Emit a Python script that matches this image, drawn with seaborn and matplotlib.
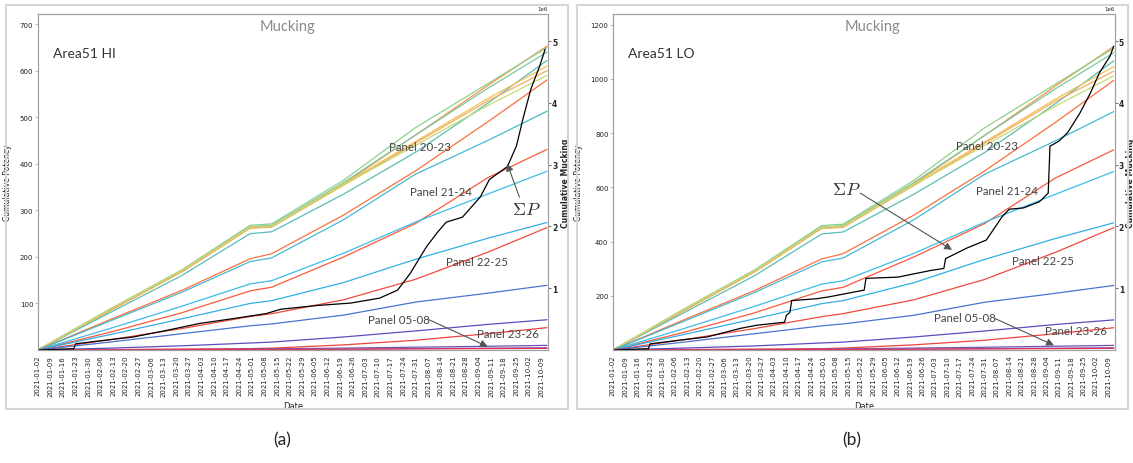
import numpy as np
import pandas as pd
import matplotlib
matplotlib.use("Agg")
import matplotlib.pyplot as plt
import matplotlib.dates as mdates
from matplotlib.patches import Rectangle
import seaborn as sns

# ---------------------------------------------------------------- data
# sampling dates for the per-panel cumulative potency curves
dates = ["2021-01-02", "2021-02-11", "2021-03-23", "2021-04-30", "2021-05-12",
         "2021-06-21", "2021-07-31", "2021-09-09", "2021-10-12"]

# Area51 HI - cumulative potency per panel
hi_01 = [0, 84, 168, 262, 265, 357, 462, 568, 653]
hi_02 = [0, 88, 172, 268, 271, 365, 478, 572, 650]
hi_03 = [0, 86, 170, 265, 268, 360, 462, 562, 640]
hi_04 = [0, 80, 160, 250, 254, 335, 425, 530, 622]
hi_05 = [0, 86, 170, 264, 266, 357, 448, 540, 610]
hi_06 = [0, 85, 168, 262, 264, 354, 445, 535, 600]
hi_07 = [0, 87, 170, 264, 266, 355, 440, 525, 590]
hi_08 = [0, 65, 128, 196, 207, 290, 385, 490, 580]
hi_09 = [0, 62, 124, 190, 198, 280, 378, 450, 513]
hi_10 = [0, 38, 80, 127, 135, 200, 272, 370, 431]
hi_11 = [0, 46, 94, 142, 149, 208, 275, 335, 384]
hi_12 = [0, 33, 67, 100, 106, 145, 195, 240, 274]
hi_13 = [0, 22, 46, 72, 78, 108, 152, 210, 263]
hi_14 = [0, 17, 35, 52, 56, 75, 103, 122, 139]
hi_15 = [0, 4, 9, 15, 17, 28, 41, 55, 65]
hi_16 = [0, 1, 2, 3, 4, 11, 21, 35, 48]
hi_17 = [0, 0.5, 1, 2, 2.5, 4, 6, 8, 10]
hi_18 = [0, 0.2, 0.5, 1, 1.2, 2, 3, 4, 5]
hi_19 = [0, 0.3, 0.6, 1, 1.2, 1.8, 2.4, 3, 3.5]

# Area51 LO - cumulative potency per panel
lo_01 = [0, 144, 288, 449, 454, 612, 791, 973, 1119]
lo_02 = [0, 151, 295, 459, 464, 625, 819, 980, 1113]
lo_03 = [0, 147, 291, 454, 459, 617, 791, 963, 1096]
lo_04 = [0, 137, 274, 428, 435, 574, 728, 908, 1066]
lo_05 = [0, 147, 291, 452, 456, 612, 767, 925, 1045]
lo_06 = [0, 146, 288, 449, 452, 606, 762, 917, 1028]
lo_07 = [0, 149, 291, 452, 456, 608, 754, 899, 1011]
lo_08 = [0, 111, 219, 336, 355, 497, 660, 839, 994]
lo_09 = [0, 106, 212, 325, 339, 480, 648, 771, 879]
lo_10 = [0, 65, 137, 218, 231, 343, 466, 634, 738]
lo_11 = [0, 79, 161, 243, 255, 356, 471, 574, 658]
lo_12 = [0, 57, 115, 171, 182, 248, 334, 411, 469]
lo_13 = [0, 38, 79, 123, 134, 185, 260, 360, 451]
lo_14 = [0, 29, 60, 89, 96, 128, 176, 209, 238]
lo_15 = [0, 7, 15, 26, 29, 48, 70, 94, 111]
lo_16 = [0, 2, 3, 5, 7, 19, 36, 60, 82]
lo_17 = [0, 1, 2, 3, 4, 7, 10, 14, 17]
lo_18 = [0, 0.3, 0.9, 1.7, 2, 3.4, 5, 7, 8.6]
lo_19 = [0, 0.5, 1, 1.7, 2, 3, 4, 5, 6]

# cumulative mucking (millions), Area51 HI
muck_hi_dates = ["2021-01-02", "2021-01-22", "2021-01-23", "2021-02-06", "2021-02-24",
                 "2021-03-15", "2021-04-02", "2021-04-21", "2021-05-09", "2021-05-17",
                 "2021-06-06", "2021-06-25", "2021-07-11", "2021-07-21", "2021-07-28",
                 "2021-08-06", "2021-08-12", "2021-08-17", "2021-08-26", "2021-09-05",
                 "2021-09-10", "2021-09-20", "2021-09-25", "2021-09-29", "2021-10-03",
                 "2021-10-08", "2021-10-11"]
muck_hi = [0, 0.02, 0.10, 0.15, 0.21, 0.32, 0.43, 0.51, 0.59, 0.66, 0.72, 0.76, 0.84,
           0.97, 1.24, 1.67, 1.90, 2.07, 2.15, 2.48, 2.76, 2.97, 3.30, 3.78, 4.22,
           4.60, 4.87]

# cumulative mucking (millions), Area51 LO
muck_lo_dates = ["2021-01-02", "2021-01-22", "2021-01-23", "2021-02-06", "2021-02-24",
                 "2021-03-15", "2021-03-24", "2021-04-09", "2021-04-10", "2021-04-12",
                 "2021-04-13", "2021-04-27", "2021-05-04", "2021-05-24", "2021-05-25",
                 "2021-06-12", "2021-07-01", "2021-07-08", "2021-07-09", "2021-07-14",
                 "2021-07-21", "2021-08-01", "2021-08-10", "2021-08-14", "2021-08-22",
                 "2021-08-31", "2021-09-05", "2021-09-06", "2021-09-11", "2021-09-16",
                 "2021-09-23", "2021-09-29", "2021-10-04", "2021-10-10", "2021-10-12"]
muck_lo = [0, 0.02, 0.10, 0.15, 0.21, 0.35, 0.40, 0.45, 0.56, 0.61, 0.80, 0.83, 0.86,
           0.97, 1.16, 1.18, 1.29, 1.32, 1.48, 1.55, 1.65, 1.78, 2.16, 2.28, 2.30,
           2.40, 2.54, 3.30, 3.38, 3.52, 3.84, 4.17, 4.49, 4.76, 4.92]

series_keys = ["s01", "s02", "s03", "s04", "s05", "s06", "s07", "s08", "s09", "s10",
               "s11", "s12", "s13", "s14", "s15", "s16", "s17", "s18", "s19"]
series_colors = ["#f7944a", "#8fd18a", "#79c9a2", "#5bbdb5", "#f0c255", "#f5aa5e",
                 "#c5da73", "#f9703e", "#46b8d0", "#f85a3a", "#3dbbe8", "#33aee6",
                 "#ee4a3c", "#4a73cf", "#5b4fbf", "#f04040", "#7052b8", "#8a6cc4",
                 "#e03050"]

hi_values = [hi_01, hi_02, hi_03, hi_04, hi_05, hi_06, hi_07, hi_08, hi_09, hi_10,
             hi_11, hi_12, hi_13, hi_14, hi_15, hi_16, hi_17, hi_18, hi_19]
lo_values = [lo_01, lo_02, lo_03, lo_04, lo_05, lo_06, lo_07, lo_08, lo_09, lo_10,
             lo_11, lo_12, lo_13, lo_14, lo_15, lo_16, lo_17, lo_18, lo_19]

week_ticks = pd.date_range("2021-01-02", "2021-10-09", freq="7D")

# ---------------------------------------------------------------- style
sns.set_style("white")
plt.rcParams["font.family"] = ["DejaVu Sans"]
plt.rcParams["mathtext.fontset"] = "cm"
ANNOT = "Lato"
SPINE = "#a0a0a0"
W, H = 1133, 464

fig = plt.figure(figsize=(W / 100, H / 100), dpi=100)


def long_frame(values):
    parts = []
    for key, vals in zip(series_keys, values):
        parts.append(pd.DataFrame({"date": pd.to_datetime(dates),
                                   "value": vals, "series": key}))
    return pd.concat(parts, ignore_index=True)


def draw_panel(rect, values, m_dates, m_vals, ytop, yticks, area, texts, arrows,
               ylab_x, rlab_x, mucking_x):
    ax = fig.add_axes(rect)
    df = long_frame(values)
    sns.lineplot(data=df, x="date", y="value", hue="series", hue_order=series_keys,
                 palette=dict(zip(series_keys, series_colors)), estimator=None,
                 sort=False, legend=False, linewidth=0.9, ax=ax)
    ax.set_ylim(0, ytop)
    ax.set_yticks(yticks)
    ax.set_xlim(pd.Timestamp("2021-01-01 20:00"), pd.Timestamp("2021-10-12 14:00"))
    ax.set_xticks(week_ticks)
    ax.xaxis.set_major_formatter(mdates.DateFormatter("%Y-%m-%d"))
    ax.tick_params(axis="x", labelsize=5, rotation=90, length=2, width=0.5,
                   color=SPINE, pad=1.5, labelcolor="#222222")
    ax.tick_params(axis="y", labelsize=5, length=2, width=0.5, color=SPINE, pad=1,
                   labelcolor="#222222")
    ax.set_xlabel("Date", fontsize=6, color="#222222")
    ax.xaxis.set_label_coords(0.5, -0.152)
    ax.set_ylabel("Cumulative Potency", fontsize=5.5, color="#222222")
    ax.yaxis.set_label_coords(ylab_x, 0.5)

    ax2 = ax.twinx()
    sns.lineplot(x=pd.to_datetime(m_dates), y=np.array(m_vals) * 1e6, color="black",
                 linewidth=0.9, estimator=None, sort=False, ax=ax2)
    ax2.set_ylim(0, 5.44e6)
    ax2.set_yticks([1e6, 2e6, 3e6, 4e6, 5e6])
    ax2.tick_params(axis="y", labelsize=5.5, length=2, width=0.5, color="#333333",
                    pad=1)
    plt.setp(ax2.get_yticklabels(), fontweight="bold")
    ax2.yaxis.get_offset_text().set_fontsize(4)
    ax2.set_ylabel("Cumulative Mucking", fontsize=5.6, fontweight="bold")
    ax2.yaxis.set_label_coords(rlab_x, 0.5)

    for a in (ax, ax2):
        for s in a.spines.values():
            s.set_color(SPINE)
            s.set_linewidth(0.8)

    ax2.text(mucking_x, 0.964, "Mucking", transform=ax2.transAxes, ha="center",
             va="center", fontsize=10.5, color="#8a8a8a", family=ANNOT)
    ax2.text(0.03, 0.884, area, transform=ax2.transAxes, ha="left", va="center",
             fontsize=10, color="#333333", family=ANNOT)
    for (tx, ty, s) in texts:
        ax2.text(tx, ty, s, transform=ax2.transAxes, ha="center", va="center",
                 fontsize=8.3, color="#444444", family=ANNOT)
    for (x0, y0, x1, y1) in arrows:
        ax2.annotate("", xy=(x1, y1), xycoords="axes fraction", xytext=(x0, y0),
                     textcoords="axes fraction",
                     arrowprops=dict(arrowstyle="-|>", color="#555555", lw=0.8,
                                     mutation_scale=11, shrinkA=0, shrinkB=0))
    return ax, ax2


AX_B = (464 - 351) / H
AX_H = 336 / H

# (a) Area51 HI
draw_panel([37.5 / W, AX_B, 510.5 / W, AX_H], hi_values, muck_hi_dates, muck_hi,
           722, [100, 200, 300, 400, 500, 600, 700], "Area51 HI",
           [(0.749, 0.607, "Panel 20-23"), (0.790, 0.473, "Panel 21-24"),
            (0.861, 0.262, "Panel 22-25"), (0.708, 0.092, "Panel 05-08"),
            (0.922, 0.048, "Panel 23-26")],
           [(0.767, 0.090, 0.882, 0.010), (0.944, 0.455, 0.920, 0.555)],
           -0.05, 1.025, 0.489)
fig.text(526 / W, 1 - 210 / H, r"$\Sigma P$", fontsize=13, ha="center",
         va="center", color="#333333")

# (b) Area51 LO
draw_panel([612.7 / W, AX_B, 502 / W, AX_H], lo_values, muck_lo_dates, muck_lo,
           1239, [200, 400, 600, 800, 1000, 1200], "Area51 LO",
           [(0.745, 0.610, "Panel 20-23"), (0.785, 0.476, "Panel 21-24"),
            (0.857, 0.265, "Panel 22-25"), (0.702, 0.098, "Panel 05-08"),
            (0.923, 0.057, "Panel 23-26")],
           [(0.761, 0.094, 0.879, 0.014), (0.493, 0.467, 0.676, 0.298)],
           -0.059, 1.0225, 0.518)
fig.text(846 / W, 1 - 190 / H, r"$\Sigma P$", fontsize=13, ha="center",
         va="center", color="#333333")

# outer frames and captions
for (x0, x1) in [(6, 568), (577, 1128)]:
    fig.add_artist(Rectangle((x0 / W, 1 - 410 / H), (x1 - x0) / W, 404 / H,
                             transform=fig.transFigure, fill=False,
                             ec="#d6d6d6", lw=1.5))
fig.text(282 / W, 1 - 440 / H, "(a)", fontsize=12.5, ha="center", va="center",
         family=ANNOT, color="#222222")
fig.text(852 / W, 1 - 440 / H, "(b)", fontsize=12.5, ha="center", va="center",
         family=ANNOT, color="#222222")

fig.savefig("out.png", dpi=100)
